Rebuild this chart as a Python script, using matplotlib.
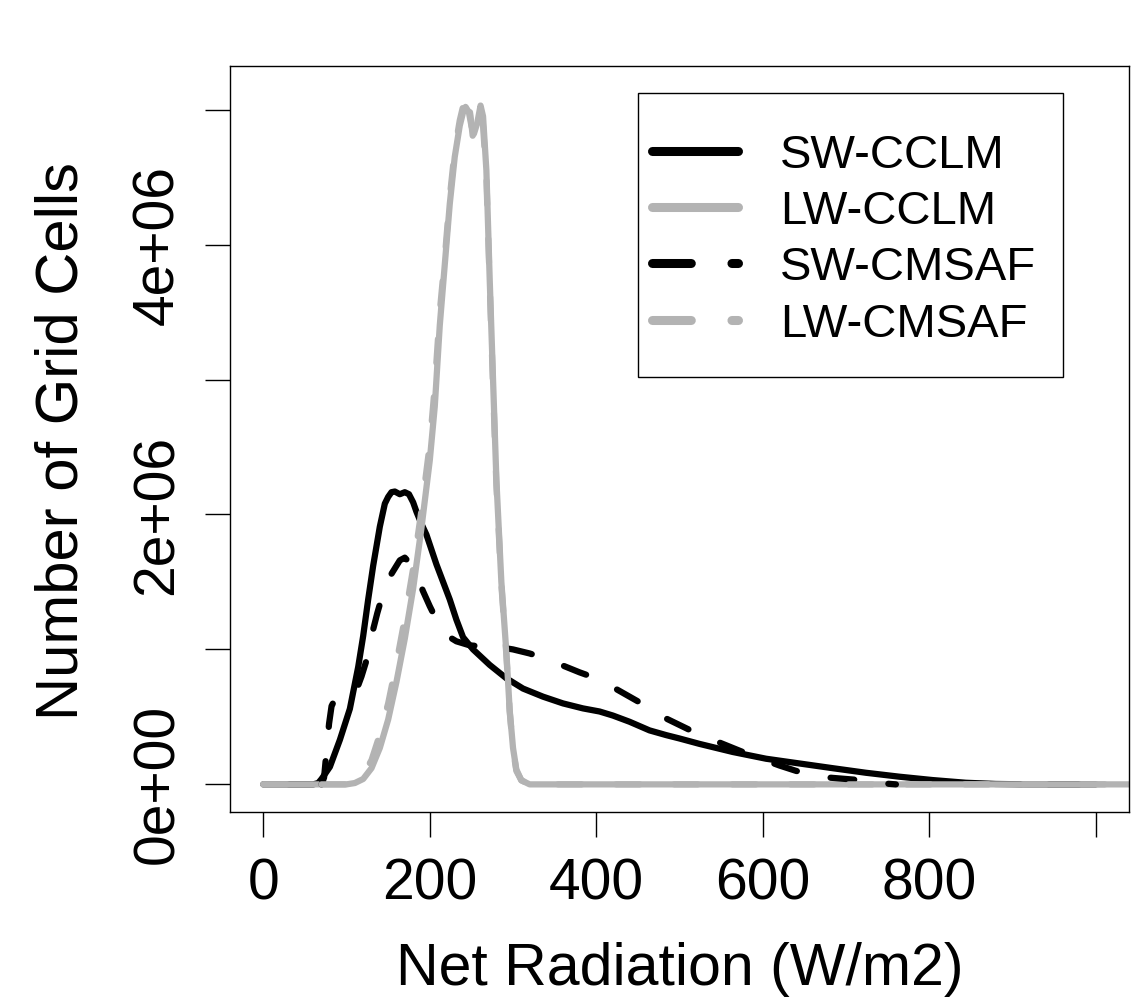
import matplotlib
matplotlib.use('Agg')
from matplotlib import pyplot as plt
from matplotlib.lines import Line2D
from matplotlib.patches import Rectangle
from matplotlib.transforms import Affine2D

plt.rcParams['font.family'] = ['Liberation Sans', 'DejaVu Sans']

# values, y in millions of grid cells
sw_cclm_x = [0, 60, 66, 70, 80, 92, 104, 114, 120, 126, 132, 140, 146, 150, 154, 158,
             164, 170, 175, 180, 184, 190, 196, 202, 208, 216, 224, 232, 240, 252, 272,
             292, 312, 336, 360, 384, 404, 420, 440, 464, 484, 500, 524, 564, 604, 644,
             684, 724, 764, 804, 844, 880, 920, 1000]
sw_cclm_y = [0, 0, 0.01, 0.04, 0.13, 0.33, 0.56, 0.87, 1.1, 1.37, 1.62, 1.91, 2.08, 2.13,
             2.165, 2.17, 2.15, 2.165, 2.15, 2.09, 2.02, 1.93, 1.85, 1.74, 1.63, 1.5, 1.37,
             1.22, 1.09, 1.0, 0.885, 0.786, 0.71, 0.65, 0.6, 0.563, 0.54, 0.51, 0.464, 0.4,
             0.365, 0.34, 0.3, 0.24, 0.19, 0.155, 0.12, 0.086, 0.057, 0.032, 0.012, 0.003,
             0, 0]

lw_cclm_x = [0, 100, 110, 120, 130, 140, 150, 160, 170, 180, 190, 200, 206, 212, 218, 224,
             230, 236, 240, 243, 247, 250, 253, 257, 261, 264, 268, 272, 276, 280, 286,
             292, 296, 300, 304, 310, 320, 1050]
lw_cclm_y = [0, 0, 0.01, 0.04, 0.12, 0.27, 0.48, 0.76, 1.08, 1.45, 1.9, 2.4, 2.8, 3.4, 3.85,
             4.3, 4.65, 4.88, 4.98, 5.02, 4.98, 4.88, 4.82, 4.9, 5.03, 4.95, 4.55, 3.74, 3.0,
             2.26, 1.5, 0.98, 0.55, 0.27, 0.11, 0.03, 0, 0]

sw_cmsaf_x = [70, 73, 76, 79, 82, 86, 92, 100, 106, 112, 118, 124, 130, 137, 144, 150,
              158, 164, 170, 176, 184, 192, 200, 208, 216, 224, 232, 248, 268, 290, 300,
              320, 340, 360, 380, 400, 420, 440, 460, 480, 500, 520, 540, 560, 580, 600,
              620, 640, 660, 680, 700, 720, 740, 760]
sw_cmsaf_y = [0, 0.05, 0.25, 0.45, 0.58, 0.63, 0.65, 0.66, 0.67, 0.7, 0.8, 0.92, 1.1,
              1.27, 1.42, 1.52, 1.6, 1.66, 1.68, 1.64, 1.55, 1.43, 1.32, 1.22, 1.14, 1.09,
              1.06, 1.03, 1.02, 1.01, 1.0, 0.97, 0.93, 0.88, 0.83, 0.786, 0.72, 0.65, 0.58,
              0.5, 0.44, 0.38, 0.33, 0.28, 0.23, 0.185, 0.14, 0.1, 0.07, 0.05, 0.04, 0.03,
              0.01, 0]

lw_cmsaf_x = [0, 100, 110, 120, 130, 140, 150, 160, 170, 180, 190, 200, 206, 212, 218, 224,
              230, 236, 241, 245, 249, 252, 256, 260, 264, 268, 272, 276, 280, 286, 292,
              296, 300, 304, 310, 320, 1050]
lw_cmsaf_y = [0, 0, 0.02, 0.07, 0.18, 0.37, 0.6, 0.9, 1.23, 1.6, 2.03, 2.52, 2.95, 3.5,
              3.9, 4.35, 4.7, 4.92, 5.05, 5.12, 4.95, 4.78, 4.85, 4.95, 4.88, 4.5, 3.7, 2.95,
              2.22, 1.48, 0.96, 0.54, 0.26, 0.1, 0.03, 0, 0]

series = [
    ('SW-CCLM', sw_cclm_x, sw_cclm_y, 'black', '-'),
    ('LW-CCLM', lw_cclm_x, lw_cclm_y, '#b3b3b3', '-'),
    ('SW-CMSAF', sw_cmsaf_x, sw_cmsaf_y, 'black', '--'),
    ('LW-CMSAF', lw_cmsaf_x, lw_cmsaf_y, '#b3b3b3', '--'),
]

W, H = 1145, 998
fig = plt.figure(figsize=(W / 100, H / 100), dpi=100)
ax = fig.add_axes([230 / W, 1 - 812 / H, (1129 - 230) / W, (812 - 66) / H])

for name, xs, ys, col, ls in series:
    line, = ax.plot(xs, [v * 1e6 for v in ys], color=col, lw=4.5, ls=ls,
                    solid_capstyle='round', dash_capstyle='round',
                    solid_joinstyle='round', dash_joinstyle='round')
    if ls == '--':
        line.set_dashes((3.8, 5.5))

ax.set_xlim(-40, 1040)
ax.set_ylim(-0.2047e6, 5.323e6)
ax.set_xticks([0, 200, 400, 600, 800, 1000])
ax.set_xticklabels(['0', '200', '400', '600', '800', ''])
ax.set_yticks([0, 1e6, 2e6, 3e6, 4e6, 5e6])
ax.set_yticklabels(['0e+00', '', '2e+06', '', '4e+06', ''], rotation=90, va='center')
ax.tick_params(direction='out', length=18, width=1.0, pad=14.4, labelsize=41)
for sp in ax.spines.values():
    sp.set_linewidth(1.0)

ax.set_xlabel('Net Radiation (W/m2)', fontsize=42.5)
ax.xaxis.label.set_va('baseline')
ax.xaxis.set_label_coords(0.5, (812 - 985) / 746)
ax.set_ylabel('Number of Grid Cells', fontsize=43)
ax.yaxis.label.set_va('baseline')
ax.yaxis.set_label_coords((78 - 230) / 899, 0.497)

# legend box, drawn in figure pixel coordinates
pix = Affine2D().scale(1 / W, -1 / H).translate(0, 1) + fig.transFigure
fig.add_artist(Rectangle((638, 93), 1063 - 638, 377 - 93, transform=pix,
                         fill=False, ec='black', lw=1.0))
row_y = [151, 207, 263, 320]
for (name, xs, ys, col, ls), yy in zip(series, row_y):
    hl = Line2D([651.5, 737.5], [yy, yy], transform=pix, color=col, lw=6.5, ls=ls,
                solid_capstyle='round', dash_capstyle='round')
    if ls == '--':
        hl.set_dashes((4.3, 4.5))
    fig.add_artist(hl)
    fig.text(780 / W, 1 - (yy + 17) / H, name, fontsize=34, va='baseline', ha='left')

fig.savefig('out.png', dpi=100)
